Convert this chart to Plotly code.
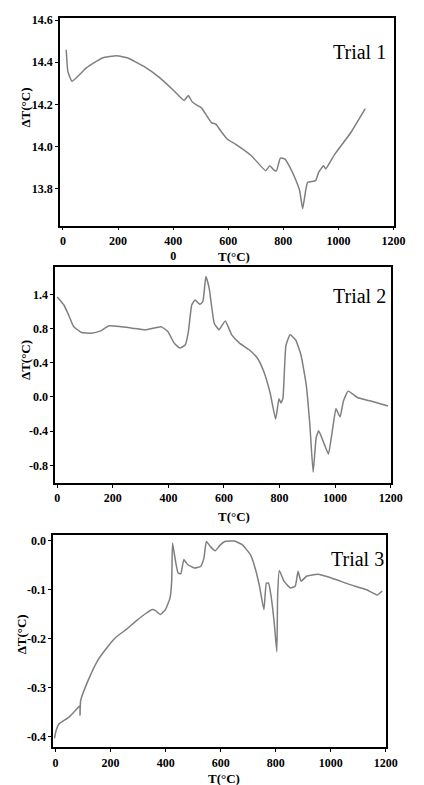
import plotly.graph_objects as go

# ---------------- data ----------------
t1_temp = [12, 18, 33, 85, 143, 195, 236, 294, 352, 399, 440, 455, 469, 486, 503, 539, 556, 573,
           597, 626, 684, 736, 751, 765, 775, 789, 806, 824, 841, 859, 870, 879, 888, 917, 928,
           946, 954, 969, 987, 1045, 1097]
t1_dt = [14.459, 14.357, 14.31, 14.373, 14.42, 14.431, 14.42, 14.38, 14.326, 14.27, 14.219, 14.242,
         14.213, 14.197, 14.184, 14.114, 14.106, 14.074, 14.035, 14.012, 13.957, 13.886, 13.91,
         13.89, 13.885, 13.946, 13.941, 13.902, 13.855, 13.792, 13.706, 13.776, 13.831, 13.839,
         13.878, 13.91, 13.894, 13.926, 13.965, 14.067, 14.18]

t2_temp = [0, 24, 41, 59, 87, 122, 156, 185, 225, 271, 317, 375, 398, 421, 441, 461, 472, 484, 496,
           513, 524, 535, 547, 565, 582, 587, 605, 628, 656, 691, 720, 743, 766, 786, 798, 805, 812,
           823, 838, 858, 877, 896, 909, 921, 932, 941, 961, 976, 990, 1003, 1010, 1018, 1030,
           1047, 1082, 1128, 1190]
t2_dt = [1.17, 1.076, 0.959, 0.824, 0.754, 0.746, 0.773, 0.831, 0.824, 0.805, 0.785, 0.82, 0.765,
         0.63, 0.572, 0.61, 0.765, 1.076, 1.134, 1.084, 1.114, 1.41, 1.27, 0.863, 0.785, 0.805,
         0.89, 0.727, 0.63, 0.552, 0.456, 0.30, 0.049, -0.26, -0.02, -0.07, -0.02, 0.60, 0.727,
         0.668, 0.494, 0.145, -0.32, -0.88, -0.475, -0.397, -0.552, -0.669, -0.397, -0.134,
         -0.184, -0.234, -0.048, 0.068, -0.01, -0.048, -0.107]

t3_temp = [-4, 2, 13, 48, 77, 88, 89, 91, 118, 153, 188, 218, 258, 293, 328, 352, 363, 381, 399,
           416, 422, 425, 434, 445, 455, 466, 480, 504, 527, 539, 548, 562, 580, 597, 615, 650,
           679, 708, 725, 741, 757, 766, 774, 784, 795, 804, 807, 813, 830, 854, 871, 881, 892,
           912, 953, 1000, 1070, 1128, 1169, 1187]
t3_dt = [-0.403, -0.387, -0.373, -0.36, -0.343, -0.336, -0.356, -0.326, -0.285, -0.244, -0.217,
         -0.197, -0.18, -0.163, -0.148, -0.14, -0.142, -0.15, -0.14, -0.116, -0.082, -0.004,
         -0.035, -0.065, -0.067, -0.038, -0.048, -0.055, -0.052, -0.035, -0.001, -0.011, -0.02,
         -0.009, -0.001, 0.0, -0.008, -0.028, -0.055, -0.092, -0.14, -0.086, -0.086, -0.116,
         -0.17, -0.226, -0.109, -0.06, -0.082, -0.096, -0.092, -0.062, -0.082, -0.072, -0.068,
         -0.075, -0.089, -0.099, -0.11, -0.102]

x_tickvals = [0, 200, 400, 600, 800, 1000, 1200]
x1_ticktext = ["0", "200", "400<br>0", "600", "800", "1000", "1200"]
x_ticktext = ["0", "200", "400", "600", "800", "1000", "1200"]

y1_tickvals = [14.6, 14.4, 14.2, 14.0, 13.8]
y1_ticktext = ["14.6", "14.4", "14.2", "14.0", "13.8"]
y2_tickvals = [1.2, 0.8, 0.4, 0.0, -0.4, -0.8]
y2_ticktext = ["1.4", "0.8", "0.4", "0.0", "-0.4", "-0.8"]
y3_tickvals = [0.0, -0.1, -0.2, -0.3, -0.4]
y3_ticktext = ["0.0", "-0.1", "-0.2", "-0.3", "-0.4"]

panel_titles = ["Trial 1", "Trial 2", "Trial 3"]
x_title = "T(°C)"
y_title = "ΔT(°C)"


def bold(labels):
    return ["<br>".join("<b>%s</b>" % part for part in s.split("<br>")) for s in labels]


# ---------------- figure ----------------
SERIF = "Liberation Serif"
LINE = dict(color="#7f7f7f", width=1.5, shape="spline", smoothing=0.4)

fig = go.Figure()
fig.add_trace(go.Scatter(x=t1_temp, y=t1_dt, mode="lines", line=LINE, xaxis="x", yaxis="y",
                         showlegend=False, hoverinfo="skip"))
fig.add_trace(go.Scatter(x=t2_temp, y=t2_dt, mode="lines", line=LINE, xaxis="x2", yaxis="y2",
                         showlegend=False, hoverinfo="skip"))
fig.add_trace(go.Scatter(x=t3_temp, y=t3_dt, mode="lines", line=LINE, xaxis="x3", yaxis="y3",
                         showlegend=False, hoverinfo="skip"))

tickfont = dict(family=SERIF, size=12, color="black")
common = dict(showline=True, mirror=True, linecolor="black", linewidth=1.8, showgrid=False,
              zeroline=False, ticks="outside", ticklen=3, tickwidth=1.2, tickcolor="black",
              tickfont=tickfont, fixedrange=True)

fig.update_layout(
    width=424, height=785,
    margin=dict(l=0, r=0, t=0, b=0),
    paper_bgcolor="white", plot_bgcolor="white",
    xaxis=dict(domain=[0.1439, 0.9552], range=[-10, 1200], anchor="y",
               tickmode="array", tickvals=x_tickvals, ticktext=bold(x1_ticktext), **common),
    yaxis=dict(domain=[0.7172, 0.9834], range=[13.626, 14.61], anchor="x",
               tickmode="array", tickvals=y1_tickvals, ticktext=bold(y1_ticktext), **common),
    xaxis2=dict(domain=[0.1321, 0.9481], range=[-7, 1200], anchor="y2",
                tickmode="array", tickvals=x_tickvals, ticktext=bold(x_ticktext), **common),
    yaxis2=dict(domain=[0.3873, 0.6637], range=[-1.006, 1.517], anchor="x2",
                tickmode="array", tickvals=y2_tickvals, ticktext=bold(y2_ticktext), **common),
    xaxis3=dict(domain=[0.1274, 0.9363], range=[-8, 1200], anchor="y3",
                tickmode="array", tickvals=x_tickvals, ticktext=bold(x_ticktext), **common),
    yaxis3=dict(domain=[0.0484, 0.3210], range=[-0.421, 0.013], anchor="x3",
                tickmode="array", tickvals=y3_tickvals, ticktext=bold(y3_ticktext), **common),
)

title_pos = [(0.872, 0.9401), (0.872, 0.6268), (0.868, 0.2892)]
xt_pos = [(0.568, 0.6777), (0.566, 0.3439), (0.542, 0.0089)]
yt_pos = [(0.059, 0.8688), (0.059, 0.5452), (0.052, 0.1936)]

annotations = []
for name, (tx, ty) in zip(panel_titles, title_pos):
    annotations.append(dict(text=name, x=tx, y=ty, xref="paper", yref="paper",
                            showarrow=False, xanchor="center", yanchor="middle",
                            font=dict(family=SERIF, size=20, color="black")))
for (tx, ty) in xt_pos:
    annotations.append(dict(text="<b>%s</b>" % x_title, x=tx, y=ty, xref="paper", yref="paper",
                            showarrow=False, xanchor="center", yanchor="middle",
                            font=dict(family=SERIF, size=13, color="black")))
for (tx, ty) in yt_pos:
    annotations.append(dict(text="<b>%s</b>" % y_title, x=tx, y=ty, xref="paper", yref="paper",
                            showarrow=False, xanchor="center", yanchor="middle", textangle=-90,
                            font=dict(family=SERIF, size=13, color="black")))
fig.update_layout(annotations=annotations)

fig.write_html("out.html")
